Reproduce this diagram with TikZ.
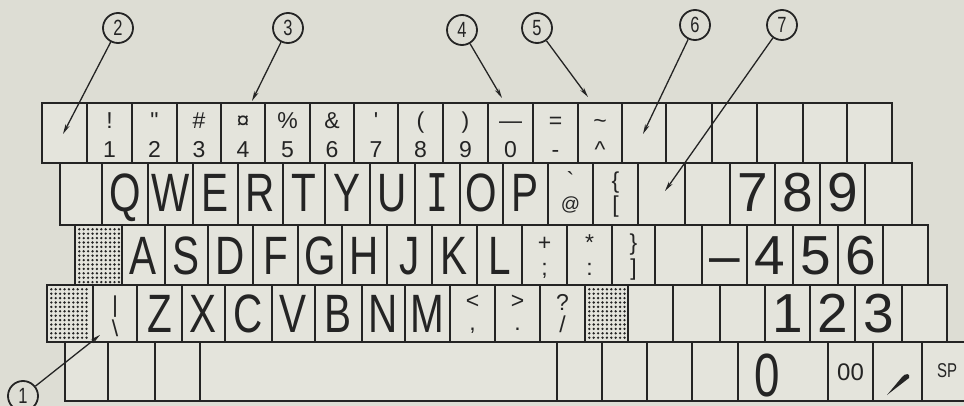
\documentclass[tikz,border=0pt]{standalone}
\usepackage{fontspec}
\setmainfont{Liberation Sans}
\newfontfamily\bigf[FakeStretch=0.75]{Liberation Sans}
\newfontfamily\monof[FakeStretch=0.7]{DejaVu Sans Mono}
\usetikzlibrary{arrows.meta}
\definecolor{paper}{RGB}{221,221,212}
\definecolor{keyfill}{RGB}{228,228,220}
\definecolor{ink}{RGB}{36,36,36}
\newcommand\kbox[5]{\node[keybox,minimum width={(#3)-(#2)},minimum height={(#5)-(#4)}] (#1) at (#2,#4) {};}
\newcommand\stipple[4]{%
  \pgfmathtruncatemacro\ncols{((#2)-(#1)-7)/4.4}%
  \pgfmathtruncatemacro\nrows{((#4)-(#3)-7)/4.4}%
  \foreach \ii in {0,...,\ncols}{\foreach \jj in {0,...,\nrows}{%
    \fill[ink] ({#1+4.3+\ii*4.4},{#3+4.3+\jj*4.4}) circle[radius=1.3];}}}
\begin{document}
\begin{tikzpicture}[x=1pt,y=-1pt,
  keybox/.style={draw=ink,line width=2.6pt,fill=keyfill,inner sep=0pt,outer sep=0pt,anchor=north west},
  bigtxt/.style={font=\bigf\fontsize{54}{60}\selectfont,text=ink,anchor=base,inner sep=0pt},
  numtxt/.style={font=\fontsize{55}{60}\selectfont,text=ink,anchor=base,inner sep=0pt},
  smalltxt/.style={font=\fontsize{23}{26}\selectfont,text=ink,anchor=base,inner sep=0pt},
  callout/.style={circle,draw=ink,line width=1.8pt,fill=paper,minimum size=30pt,inner sep=0pt,font=\bigf\fontsize{22}{22}\selectfont,text=ink},
  callarrow/.style={draw=ink,line width=1.3pt,-{Stealth[length=10pt,width=4.5pt]}}]
\useasboundingbox (0,0) rectangle (964,406);
\fill[paper] (0,0) rectangle (964,406);
\clip (0,0) rectangle (964,406);
% ---------- row 1
\foreach \i/\a/\b in {1/42/87,2/87/132,3/132/177,4/177/221,5/221/265,6/265/310,7/310/354,8/354/398,9/398/443,10/443/488,11/488/533,12/533/578,13/578/622,14/622/666,15/666/712,16/712/757,17/757/803,18/803/847,19/847/892}
  {\kbox{a\i}{\a}{\b}{103}{163}}
\foreach \i/\u/\d in {2/!/1,3/\textquotedbl/2,4/\#/3,5/¤/4,6/\%/5,7/\&/6,8/\textquotesingle/7,9/(/8,10/)/9,11/\textemdash/0,12/=/-,13/\textasciitilde/\textasciicircum}
  {\node[smalltxt] (u\i) at (a\i |- 0,129) {\u};
   \node[smalltxt] (d\i) at (a\i |- 0,158) {\d};}
% ---------- row 2
\foreach \i/\a/\b in {1/60/102,2/102/148,3/148/193,4/193/238,5/238/283,6/283/325,7/325/370,8/370/415,9/415/460,10/460/503,11/503/548,12/548/593,13/593/638,14/638/685,15/685/730,16/730/775,17/775/820,18/820/865,19/865/912}
  {\kbox{b\i}{\a}{\b}{163}{225}}
\foreach \i/\t in {2/Q,3/W,4/E,5/R,6/T,7/Y,8/U,10/O,11/P}
  {\node[bigtxt] (lb\i) at (b\i |- 0,212) {\t};}
\node[bigtxt,font=\monof\fontsize{52}{56}\selectfont] (lb9) at (b9 |- 0,212) {I};
\foreach \i/\t in {16/7,17/8,18/9}
  {\node[numtxt] (nb\i) at (b\i |- 0,212) {\t};}
\node[smalltxt] (ub12) at (b12 |- 0,189) {\textasciigrave};
\node[smalltxt,font=\fontsize{19}{22}\selectfont] (db12) at (b12 |- 0,211) {@};
\node[smalltxt] (ub13) at (b13 |- 0,189) {\{};
\node[smalltxt] (db13) at (b13 |- 0,213) {[};
% ---------- row 3
\foreach \i/\a/\b in {1/75/122,2/122/165,3/165/208,4/208/253,5/253/298,6/298/342,7/342/387,8/387/432,9/432/477,10/477/522,11/522/567,12/567/612,13/612/655,14/655/702,15/702/747,16/747/793,17/793/838,18/838/883,19/883/928}
  {\kbox{c\i}{\a}{\b}{225}{285}}
\stipple{75}{122}{225}{285}
\foreach \i/\t in {2/A,3/S,4/D,5/F,6/G,7/H,8/J,9/K,10/L}
  {\node[bigtxt] (lc\i) at (c\i |- 0,274) {\t};}
\foreach \i/\t in {15/\textendash,16/4,17/5,18/6}
  {\node[numtxt] (nc\i) at (c\i |- 0,274) {\t};}
\foreach \i/\u/\d in {11/+/;,12/*/:,13/\}/]}
  {\node[smalltxt] (uc\i) at (c\i |- 0,251) {\u};
   \node[smalltxt] (dc\i) at (c\i |- 0,276) {\d};}
% ---------- row 4
\foreach \i/\a/\b in {1/47/93,2/93/137,3/137/182,4/182/225,5/225/272,6/272/315,7/315/362,8/362/405,9/405/450,10/450/495,11/495/540,12/540/585,13/585/628,14/628/673,15/673/720,16/720/765,17/765/810,18/810/855,19/855/902,20/902/947}
  {\kbox{d\i}{\a}{\b}{285}{342}}
\stipple{47}{93}{285}{342}
\stipple{585}{628}{285}{342}
\foreach \i/\t in {3/Z,4/X,5/C,6/V,7/B,8/N,9/M}
  {\node[bigtxt] (ld\i) at (d\i |- 0,332) {\t};}
\foreach \i/\t in {17/1,18/2,19/3}
  {\node[numtxt] (nd\i) at (d\i |- 0,332) {\t};}
\node[smalltxt] (ud2) at (d2 |- 0,312) {|};
\node[smalltxt] (dd2) at (d2 |- 0,336) {\textbackslash};
\node[smalltxt] (ud10) at (d10 |- 0,308) {<};
\node[smalltxt] (dd10) at (d10 |- 0,330) {,};
\node[smalltxt] (ud11) at (d11 |- 0,308) {>};
\node[smalltxt] (dd11) at (d11 |- 0,330) {.};
\node[smalltxt] (ud12) at (d12 |- 0,310) {?};
\node[smalltxt] (dd12) at (d12 |- 0,332) {/};
% ---------- row 5
\foreach \i/\a/\b in {1/65/108,2/108/155,3/155/200,4/200/557,5/557/602,6/602/647,7/647/692,8/692/738,9/738/828,10/828/873,11/873/922,12/922/985}
  {\kbox{e\i}{\a}{\b}{342}{401}}
\node[numtxt,font=\bigf\fontsize{61}{66}\selectfont] (ne9) at (767,396) {0};
\node[smalltxt,font=\fontsize{24}{26}\selectfont] (ne10) at (e10 |- 0,380) {00};
\fill[ink] (887,395) -- (902,377) .. controls (905,373) and (911,373) .. (909,378) -- cycle;
\node[smalltxt,font=\bigf\fontsize{20}{22}\selectfont] (ne12) at (947,377) {SP};
% ---------- callouts
\node[callout] (c1) at (23,396) {1};
\node[callout] (c2) at (118,28) {2};
\node[callout] (c3) at (288,28) {3};
\node[callout] (c4) at (462,30) {4};
\node[callout] (c5) at (537,28) {5};
\node[callout] (c6) at (695,25) {6};
\node[callout] (c7) at (782,25) {7};
\coordinate (t1) at (100,335);
\coordinate (t2) at (63,134);
\coordinate (t3) at (252,101);
\coordinate (t4) at (502,98);
\coordinate (t5) at (588,97);
\coordinate (t6) at (643,134);
\coordinate (t7) at (665,191);
\foreach \k in {1,...,7}{\draw[callarrow] (c\k) -- (t\k);}
\end{tikzpicture}
\end{document}
